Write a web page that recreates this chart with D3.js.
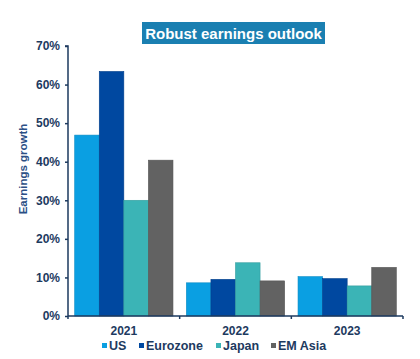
<!DOCTYPE html>
<html><head><meta charset="utf-8">
<script src="https://cdn.jsdelivr.net/npm/d3@7"></script>
<style>body{margin:0;background:#fff}svg{display:block}</style>
</head><body>
<script>
const categories = ["2021", "2022", "2023"];
const seriesNames = ["US", "Eurozone", "Japan", "EM Asia"];
const US = [46.9, 8.6, 10.2];
const Eurozone = [63.4, 9.5, 9.7];
const Japan = [30.0, 13.8, 7.8];
const EMAsia = [40.4, 9.1, 12.6];
const yTicks = [0, 10, 20, 30, 40, 50, 60, 70];
const colors = ["#0a9fe2", "#0048a0", "#3bb4b6", "#626262"];
const seriesValues = [US, Eurozone, Japan, EMAsia];

const W = 420, H = 359;
const svg = d3.select("body").append("svg").attr("width", W).attr("height", H);
const m = {left: 68, right: 403, top: 46, bottom: 316};
const font = "'Liberation Sans', Arial, sans-serif";
const navy = "#1d3a5f";

const x0 = d3.scaleBand().domain(categories).range([m.left, m.right]).paddingInner(0.12).paddingOuter(0.06);
const x1 = d3.scaleBand().domain(seriesNames).range([0, x0.bandwidth()]);
const y = d3.scaleLinear().domain([0, 70]).range([m.bottom, m.top]);

// bars
categories.forEach((c, ci) => {
  seriesNames.forEach((s, si) => {
    const v = seriesValues[si][ci];
    svg.append("rect")
      .attr("x", x0(c) + x1(s))
      .attr("y", y(v))
      .attr("width", x1.bandwidth())
      .attr("height", y(0) - y(v))
      .attr("fill", colors[si])
      .attr("stroke", d3.color(colors[si]).darker(0.4))
      .attr("stroke-width", 0.6);
  });
});

// y axis
const yAxis = svg.append("g").attr("transform", `translate(${m.left},0)`)
  .call(d3.axisLeft(y).tickValues(yTicks).tickFormat(d => d + "%").tickSize(3).tickPadding(5));
yAxis.select(".domain").attr("stroke", navy).attr("stroke-width", 1.5).attr("d", `M-3,${y(70)}H0V${y(0)}`);
yAxis.selectAll(".tick line").attr("stroke", navy).attr("stroke-width", 1.5);
yAxis.selectAll(".tick text").attr("fill", navy).attr("font-family", font).attr("font-size", 12).attr("font-weight", "bold");

// x axis
const xg = svg.append("g").attr("transform", `translate(0,${m.bottom})`);
xg.append("line").attr("x1", m.left).attr("x2", m.right).attr("stroke", navy).attr("stroke-width", 1.5);
const boundaries = [m.left].concat(categories.slice(1).map(c => x0(c) - x0.step() * x0.paddingInner() / 2), [m.right]);
boundaries.forEach(b => xg.append("line").attr("x1", b).attr("x2", b).attr("y1", 0).attr("y2", 3).attr("stroke", navy).attr("stroke-width", 1.5));
categories.forEach(c => {
  xg.append("text").attr("x", x0(c) + x0.bandwidth() / 2).attr("y", 19)
    .attr("text-anchor", "middle").attr("fill", navy).attr("font-family", font)
    .attr("font-size", 12).attr("font-weight", "bold").text(c);
});

// y axis title
svg.append("text").attr("transform", `translate(27,${(y(0)+y(70))/2 - 12}) rotate(-90)`)
  .attr("text-anchor", "middle").attr("fill", "#2b4f85").attr("font-family", font)
  .attr("font-size", 11.5).attr("font-weight", "bold").text("Earnings growth");

// title
svg.append("rect").attr("x", 142).attr("y", 22).attr("width", 183).attr("height", 22).attr("fill", "#1a7fb1");
svg.append("text").attr("x", 233.5).attr("y", 38.5).attr("text-anchor", "middle")
  .attr("fill", "#fff").attr("font-family", font).attr("font-size", 15).attr("font-weight", "bold")
  .text("Robust earnings outlook");

// legend
const legX = [102, 139, 216, 271];
seriesNames.forEach((s, i) => {
  svg.append("rect").attr("x", legX[i]).attr("y", 343).attr("width", 5).attr("height", 5).attr("fill", colors[i]);
  svg.append("text").attr("x", legX[i] + 7).attr("y", 350).attr("fill", navy).attr("font-family", font)
    .attr("font-size", 12.5).attr("font-weight", "bold").text(s);
});
</script>
</body></html>
